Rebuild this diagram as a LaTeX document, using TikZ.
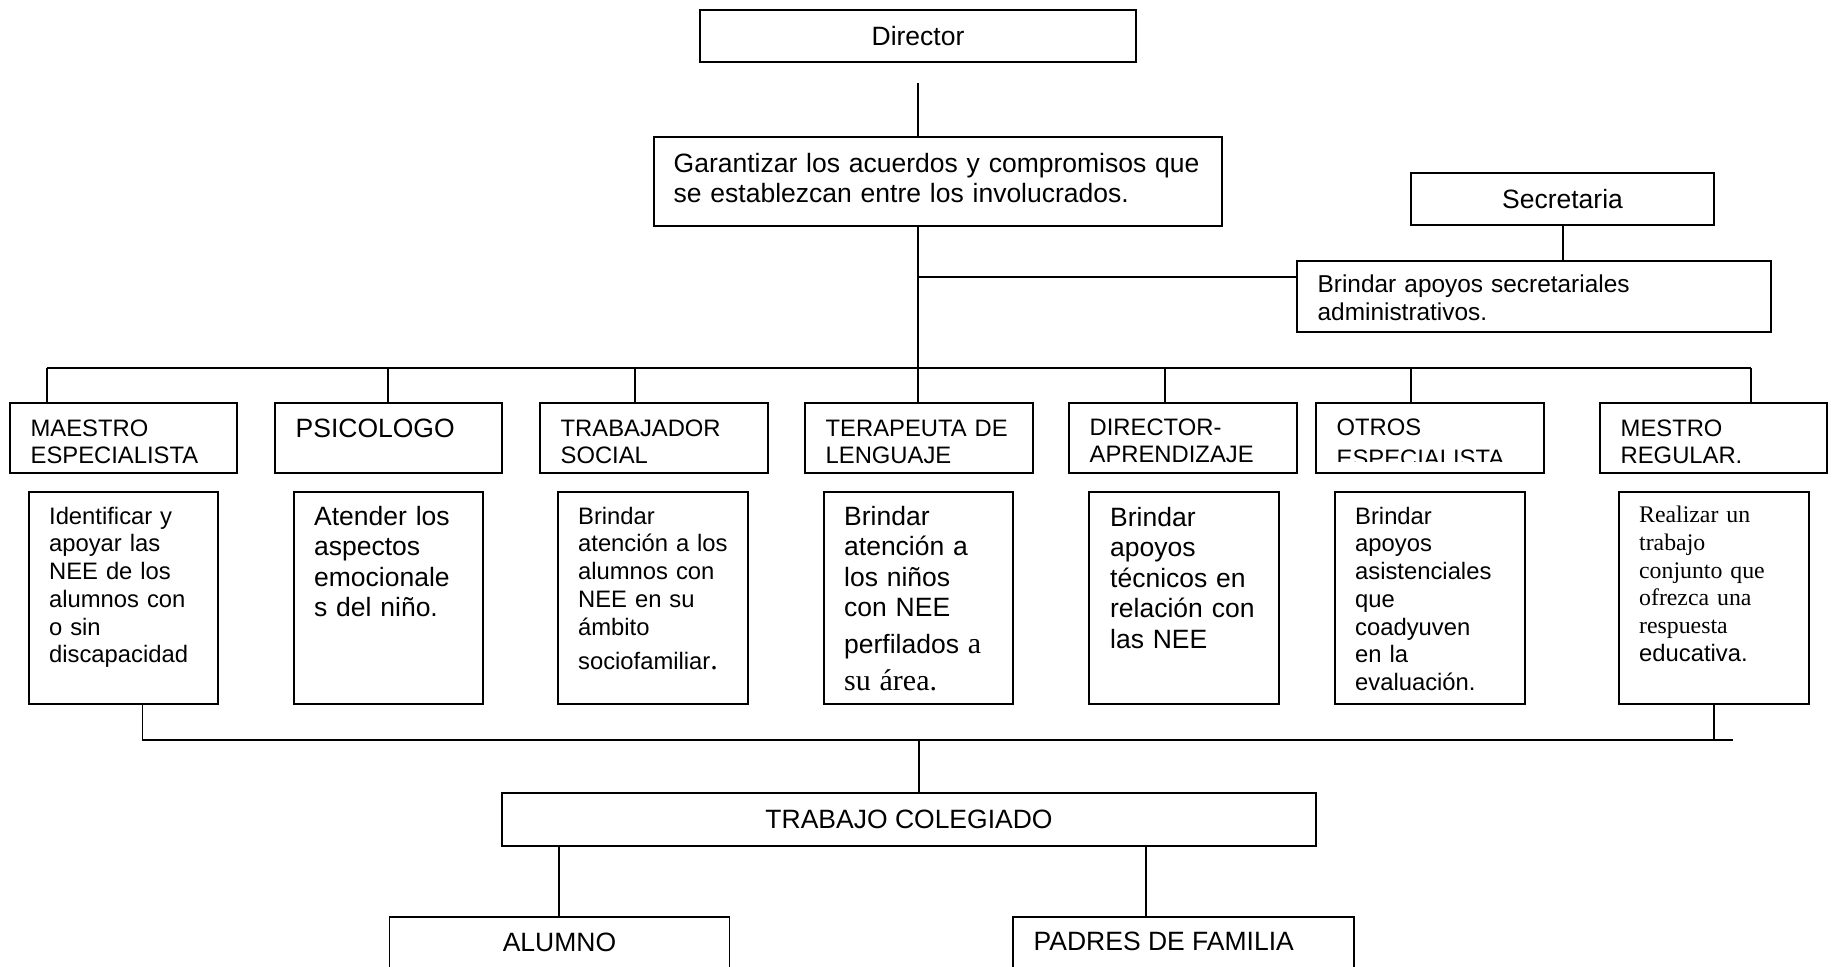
\documentclass[tikz,border=0pt]{standalone}
\usepackage{fontspec}
\setmainfont{Liberation Sans}
\newfontfamily\tmsfont{Liberation Serif}
\usetikzlibrary{fit}
\begin{document}
\begin{tikzpicture}[x=0.5pt,y=-0.5pt,
  box/.style={draw, line width=0.75pt, inner sep=0pt},
  conn/.style={line width=0.75pt},
  smalltxt/.style={font=\fontsize{11.9}{13.85}\selectfont, inner sep=0pt, anchor=base west, align=left, text width=280pt},
  bigtxt/.style={font=\fontsize{13.25}{15.25}\selectfont, inner sep=0pt, anchor=base west, align=left, text width=300pt},
  ctxt/.style={font=\fontsize{13.25}{15.25}\selectfont, inner sep=0pt}
]
\clip (0,0) rectangle (1834,966);
\fill[white] (0,0) rectangle (1834,966);

% ---------- top ----------
\node[box, fit={(700,10) (1136,62)}] (dir) {};
\node[ctxt] (dirt) at (dir.center) {Director};

\node[box, fit={(654,137) (1222,226)}] (gar) {};
\node[bigtxt] (gart) at ([shift={(20,36)}]gar.north west) {Garantizar los acuerdos y compromisos que\\se establezcan entre los involucrados.};

\node[box, fit={(1411,173) (1714,225)}] (sec) {};
\node[ctxt] (sect) at (sec.center) {Secretaria};

\node[box, fit={(1297,261) (1771,332)}] (sec2) {};
\node[smalltxt, font=\fontsize{12.2}{14.1}\selectfont] (sec2t) at ([shift={(21,32.5)}]sec2.north west) {Brindar apoyos secretariales\\administrativos.};

\coordinate (t0) at (918,83);
\coordinate (br) at (918,277);
\coordinate (j1) at (47,368);
\coordinate (j2) at (388,368);
\coordinate (j3) at (635,368);
\coordinate (j4) at (918,368);
\coordinate (j5) at (1165,368);
\coordinate (j6) at (1411,368);
\coordinate (j7) at (1751,368);
\coordinate (sj) at (1563,225);

\draw[conn] (t0) -- (t0 |- gar.north);
\draw[conn] (gar.south -| t0) -- (j4);
\draw[conn] (br) -- (br -| sec2.west);
\draw[conn] (sj) -- (sj |- sec2.north);
\draw[conn] (j1) -- (j7);

% ---------- header boxes ----------
\node[box, fit={(10,403) (237,473)}] (h1) {};
\node[box, fit={(275,403) (502,473)}] (h2) {};
\node[box, fit={(540,403) (768,473)}] (h3) {};
\node[box, fit={(805,403) (1033,473)}] (h4) {};
\node[box, fit={(1069,403) (1297,473)}] (h5) {};
\node[box, fit={(1316,403) (1544,473)}] (h6) {};
\node[box, fit={(1600,403) (1827,473)}] (h7) {};

\foreach \i in {1,...,7} { \draw[conn] (j\i) -- (j\i |- h\i.north); }

\node[smalltxt] (h1t) at ([shift={(21,34)}]h1.north west) {MAESTRO\\ESPECIALISTA};
\node[bigtxt] (h2t) at ([shift={(21,35)}]h2.north west) {PSICOLOGO};
\node[smalltxt] (h3t) at ([shift={(21,34)}]h3.north west) {TRABAJADOR\\SOCIAL};
\node[smalltxt] (h4t) at ([shift={(21,34)}]h4.north west) {TERAPEUTA DE\\LENGUAJE};
\node[smalltxt] (h5t) at ([shift={(21,33)}]h5.north west) {DIRECTOR-\\APRENDIZAJE};
\begin{scope}
  \clip (h6.north west) rectangle ([shift={(0,59)}]h6.north east);
  \node[smalltxt] (h6t) at ([shift={(21,33)}]h6.north west) {OTROS\\[2pt]ESPECIALISTA};
\end{scope}
\node[smalltxt] (h7t) at ([shift={(21,34)}]h7.north west) {MESTRO\\REGULAR.};

% ---------- description boxes ----------
\node[box, fit={(29,492) (218,704)}] (d1) {};
\node[box, fit={(294,492) (483,704)}] (d2) {};
\node[box, fit={(558,492) (748,704)}] (d3) {};
\node[box, fit={(824,492) (1013,704)}] (d4) {};
\node[box, fit={(1089,492) (1279,704)}] (d5) {};
\node[box, fit={(1335,492) (1525,704)}] (d6) {};
\node[box, fit={(1619,492) (1809,704)}] (d7) {};

\node[smalltxt] (d1t) at ([shift={(20.5,33)}]d1.north west) {Identificar y\\apoyar las\\NEE de los\\alumnos con\\o sin\\discapacidad};
\node[bigtxt] (d2t) at ([shift={(20.5,34)}]d2.north west) {Atender los\\aspectos\\emocionale\\s del niño.};
\node[smalltxt] (d3t) at ([shift={(20.5,33)}]d3.north west) {Brindar\\atención a los\\alumnos con\\NEE en su\\ámbito\\[3.5pt]sociofamiliar{\tmsfont\fontsize{15}{17}\selectfont .}};
\node[bigtxt] (d4t) at ([shift={(20.5,34)}]d4.north west) {Brindar\\atención a\\los niños\\con NEE\\[3pt]perfilados {\tmsfont\fontsize{15}{17}\selectfont a}\\[3.5pt]{\tmsfont\fontsize{15}{17}\selectfont su área.}};
\node[bigtxt] (d5t) at ([shift={(21.5,35)}]d5.north west) {Brindar\\apoyos\\técnicos en\\relación con\\las NEE};
\node[smalltxt] (d6t) at ([shift={(20.5,33)}]d6.north west) {Brindar\\apoyos\\asistenciales\\que\\coadyuven\\en la\\evaluación.};
\node[smalltxt] (d7t) at ([shift={(20.5,31.5)}]d7.north west) {{\tmsfont Realizar un}\\{\tmsfont trabajo}\\{\tmsfont conjunto que}\\{\tmsfont ofrezca una}\\{\tmsfont respuesta}\\educativa.};

% ---------- bottom ----------
\coordinate (k1) at (142.7,740);
\coordinate (k4) at (919,740);
\coordinate (k7) at (1714,740);
\coordinate (kend) at (1733,740);
\draw[conn] (k1 |- d1.south) -- (k1) -- (kend);
\draw[conn] (k7 |- d7.south) -- (k7);

\node[box, fit={(502,793) (1316,846)}] (tc) {};
\node[ctxt] (tct) at (tc.center) {TRABAJO COLEGIADO};
\draw[conn] (k4) -- (k4 |- tc.north);

\node[box, fit={(389.5,917) (729.5,1010)}] (al) {};
\node[box, fit={(1013,917) (1354,1010)}] (pf) {};
\node[ctxt, anchor=base] (alt) at (559.5,951.7) {ALUMNO};
\node[ctxt, anchor=base west] (pft) at ([shift={(21,34.7)}]pf.north west) {PADRES DE FAMILIA};

\coordinate (m1) at (559,846);
\coordinate (m2) at (1146,846);
\draw[conn] (m1) -- (m1 |- al.north);
\draw[conn] (m2) -- (m2 |- pf.north);
\end{tikzpicture}
\end{document}
